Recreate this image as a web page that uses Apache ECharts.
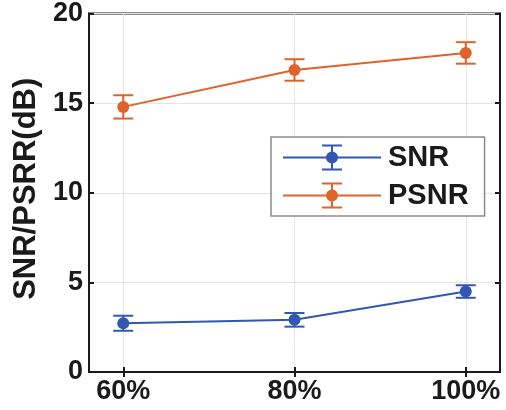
<!DOCTYPE html>
<html><head><meta charset="utf-8">
<script src="https://cdn.jsdelivr.net/npm/echarts@6/dist/echarts.min.js"></script>
<style>html,body{margin:0;padding:0;background:#fff}#c{width:506px;height:410px}</style>
</head><body><div id="c"></div>
<script>
const categories = [60, 80, 100];
const tickLabels = ['60%', '80%', '100%'];
const snr = [2.72, 2.91, 4.49];
const snrErr = [0.42, 0.38, 0.35];
const psnr = [14.79, 16.85, 17.8];
const psnrErr = [0.65, 0.6, 0.6];
const yTicks = [0, 5, 10, 15, 20];

const BLUE = '#3158b0';
const ORANGE = '#e0622b';
const FONT = 'Liberation Sans';

function pts(vals) { return categories.map((c, i) => [c, vals[i]]); }
function errData(vals, errs) { return categories.map((c, i) => [c, vals[i] - errs[i], vals[i] + errs[i]]); }

function errSeries(name, vals, errs, color) {
  return {
    name: name, type: 'custom', z: 3,
    data: errData(vals, errs),
    renderItem: function (params, api) {
      const x = api.value(0);
      const lo = api.coord([x, api.value(1)]);
      const hi = api.coord([x, api.value(2)]);
      const hw = 10;
      const st = { stroke: color, lineWidth: 2 };
      return { type: 'group', children: [
        { type: 'line', shape: { x1: lo[0], y1: lo[1], x2: hi[0], y2: hi[1] }, style: st },
        { type: 'line', shape: { x1: lo[0] - hw, y1: lo[1], x2: lo[0] + hw, y2: lo[1] }, style: st },
        { type: 'line', shape: { x1: hi[0] - hw, y1: hi[1], x2: hi[0] + hw, y2: hi[1] }, style: st }
      ]};
    }
  };
}
function lineSeries(name, vals, color) {
  return {
    name: name, type: 'line', z: 4, data: pts(vals),
    symbol: 'circle', symbolSize: 12,
    itemStyle: { color: color }, lineStyle: { color: color, width: 2 }
  };
}

const icon = 'path://M0,12 H98 V14 H0 Z M48,1 H50 V25 H48 Z M39,0 H59 V2 H39 Z M39,24 H59 V26 H39 Z M43,13 A6,6 0 1,1 55,13 A6,6 0 1,1 43,13 Z';

const chart = echarts.init(document.getElementById('c'));
chart.setOption({
  animation: false,
  textStyle: { fontFamily: FONT },
  grid: { left: 89, right: 6, top: 9, bottom: 38, show: true, borderColor: '#1a1a1a', borderWidth: 2 },
  xAxis: [{
    type: 'value', min: 56, max: 104,
    axisLine: { show: true, lineStyle: { color: '#1a1a1a', width: 2 } },
    axisTick: { show: true, inside: true, length: 5, customValues: categories, lineStyle: { color: '#1a1a1a', width: 2 } },
    axisLabel: { customValues: categories, margin: 6, fontSize: 27, fontWeight: 'bold', color: '#1a1a1a', fontFamily: FONT,
      formatter: function (v) { return tickLabels[categories.indexOf(v)]; } },
    splitLine: { show: true, lineStyle: { color: '#e4e4e4', width: 1 } }
  }, {
    type: 'value', min: 56, max: 104, position: 'top',
    axisLine: { show: true, lineStyle: { color: '#1a1a1a', width: 2 } },
    axisTick: { show: true, inside: true, length: 5, customValues: categories, lineStyle: { color: '#1a1a1a', width: 2 } },
    axisLabel: { show: false, customValues: categories }, splitLine: { show: false }
  }],
  yAxis: [{
    type: 'value', min: 0, max: 20, interval: 5,
    name: 'SNR/PSRR(dB)', nameLocation: 'middle', nameGap: 45,
    nameTextStyle: { fontSize: 31, fontWeight: 'bold', color: '#1a1a1a', fontFamily: FONT, padding: [0, 0, 0, 8] },
    axisLine: { show: true, lineStyle: { color: '#1a1a1a', width: 2 } },
    axisTick: { show: true, inside: true, length: 5, lineStyle: { color: '#1a1a1a', width: 2 } },
    axisLabel: { margin: 6, fontSize: 27, fontWeight: 'bold', color: '#1a1a1a', fontFamily: FONT,
      formatter: function (v) { return yTicks.indexOf(v) >= 0 ? String(v) : ''; } },
    splitLine: { show: true, lineStyle: { color: '#e4e4e4', width: 1 } }
  }, {
    type: 'value', min: 0, max: 20, interval: 5, position: 'right',
    axisLine: { show: true, lineStyle: { color: '#1a1a1a', width: 2 } },
    axisTick: { show: true, inside: true, length: 5, lineStyle: { color: '#1a1a1a', width: 2 } },
    axisLabel: { show: false }, splitLine: { show: false }
  }],
  legend: {
    left: 271, top: 137, orient: 'vertical',
    padding: [6, 16, 6, 12], itemGap: 9, itemWidth: 98, itemHeight: 26,
    borderColor: '#8a8a8a', borderWidth: 1.5, backgroundColor: '#fff',
    textStyle: { fontSize: 29, fontWeight: 'bold', color: '#1a1a1a', fontFamily: FONT, padding: [0, 0, 0, 2] },
    data: [
      { name: 'SNR', icon: icon, itemStyle: { color: BLUE } },
      { name: 'PSNR', icon: icon, itemStyle: { color: ORANGE } }
    ]
  },
  series: [
    lineSeries('SNR', snr, BLUE), errSeries('SNR', snr, snrErr, BLUE),
    lineSeries('PSNR', psnr, ORANGE), errSeries('PSNR', psnr, psnrErr, ORANGE)
  ]
});
</script></body></html>
